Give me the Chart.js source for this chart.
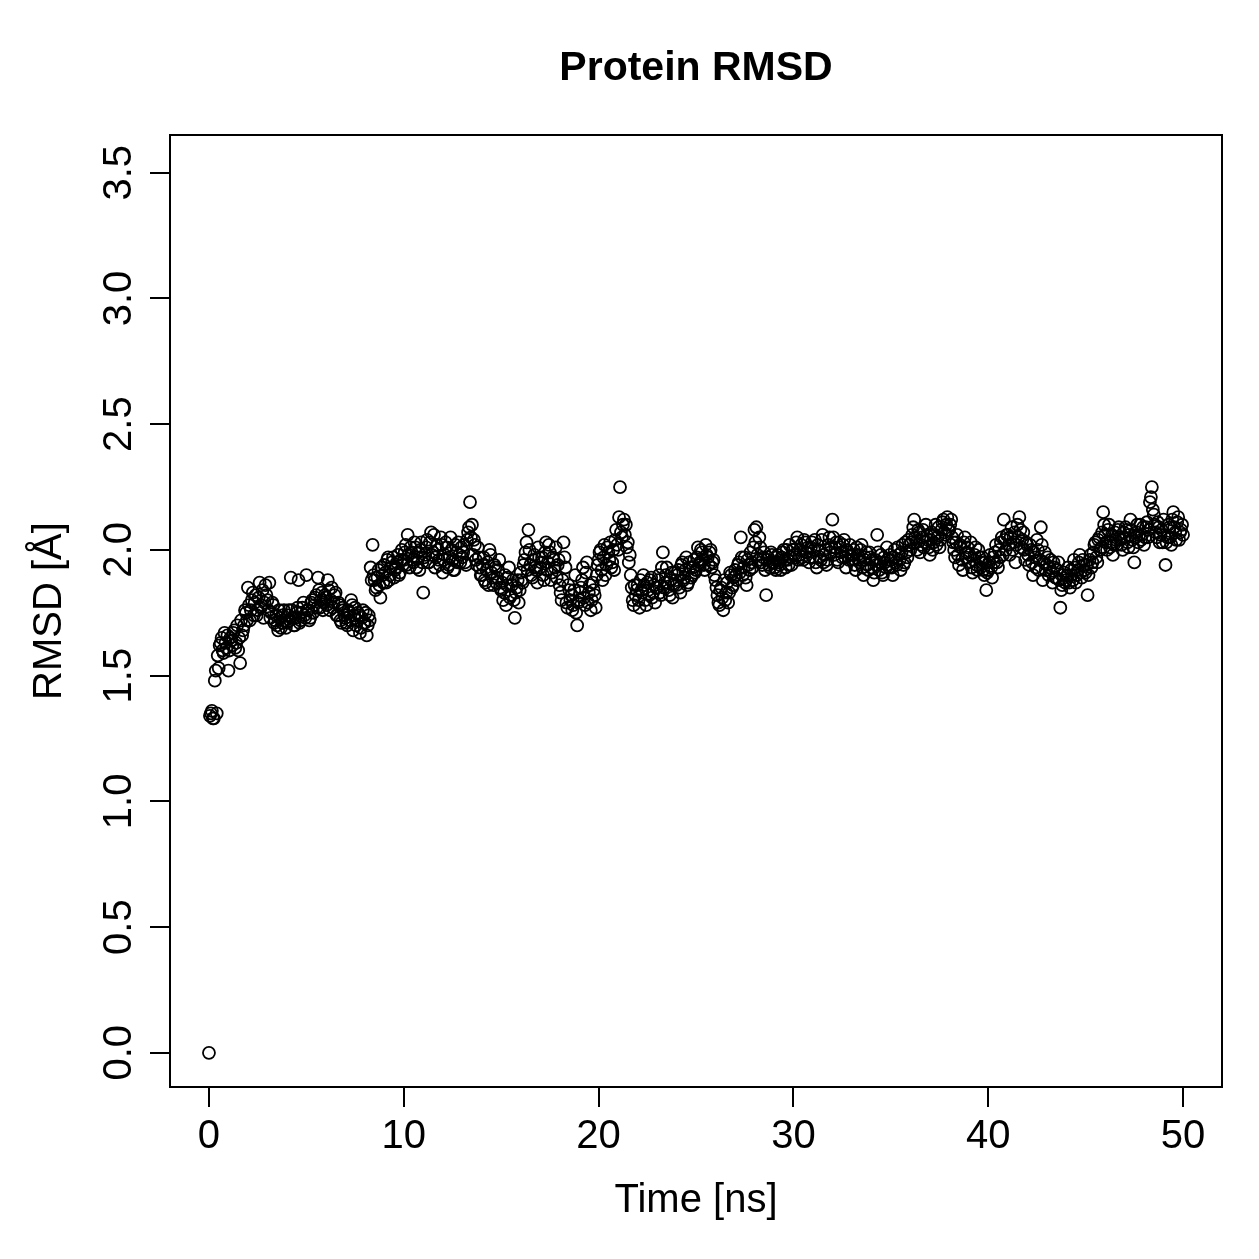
<!DOCTYPE html>
<html>
<head>
<meta charset="utf-8">
<title>Protein RMSD</title>
<script src="https://cdn.jsdelivr.net/npm/chart.js@4/dist/chart.umd.min.js"></script>
<style>
  html, body { margin: 0; padding: 0; background: #fff; }
  #wrap { width: 1259px; height: 1259px; position: relative; }
</style>
</head>
<body>
<div id="wrap"><canvas id="rmsdChart" width="1259" height="1259"></canvas></div>
<script>
// RMSD (Å), frames à 0.0, 0.1, 0.2 ... 50.0 ns (une ligne = 1 ns)
const rmsd = [
  0.00, 1.35, 1.33, 1.48, 1.35, 1.53, 1.63, 1.60, 1.67, 1.61,
  1.52, 1.65, 1.62, 1.68, 1.63, 1.60, 1.55, 1.66, 1.70, 1.75,
  1.85, 1.72, 1.80, 1.74, 1.82, 1.76, 1.87, 1.78, 1.73, 1.86,
  1.80, 1.87, 1.75, 1.78, 1.72, 1.70, 1.76, 1.69, 1.74, 1.72,
  1.71, 1.76, 1.89, 1.73, 1.70, 1.75, 1.88, 1.72, 1.77, 1.74,
  1.90, 1.76, 1.73, 1.80, 1.78, 1.82, 1.89, 1.77, 1.83, 1.79,
  1.81, 1.88, 1.76, 1.85, 1.79, 1.83, 1.74, 1.78, 1.71, 1.76,
  1.73, 1.70, 1.75, 1.80, 1.68, 1.77, 1.72, 1.74, 1.69, 1.76,
  1.71, 1.66, 1.74, 1.93, 2.02, 1.88, 1.85, 1.92, 1.81, 1.90,
  1.94, 1.87, 1.97, 1.90, 1.95, 1.89, 1.93, 1.98, 1.91, 2.00,
  1.96, 2.02, 2.06, 1.93, 1.99, 1.95, 2.01, 1.97, 1.92, 2.03,
  1.83, 1.98, 2.04, 1.95, 2.07, 1.99, 1.93, 2.02, 1.96, 2.05,
  1.91, 1.98, 2.01, 1.94, 2.05, 1.96, 1.92, 1.99, 2.03, 1.95,
  1.97, 2.02, 1.94, 2.07, 2.19, 2.10, 2.04, 1.96, 2.01, 1.93,
  1.90, 1.97, 1.87, 1.95, 2.00, 1.91, 1.86, 1.93, 1.89, 1.96,
  1.84, 1.80, 1.90, 1.86, 1.93, 1.82, 1.88, 1.73, 1.85, 1.79,
  1.91, 1.87, 1.96, 2.03, 2.08, 1.94, 1.89, 1.98, 1.92, 2.01,
  1.93, 1.97, 1.88, 2.03, 1.95, 1.99, 1.91, 1.96, 2.01, 1.94,
  1.86, 1.80, 2.03, 1.93, 1.77, 1.84, 1.82, 1.78, 1.90, 1.70,
  1.80, 1.85, 1.93, 1.78, 1.95, 1.83, 1.76, 1.87, 1.82, 1.90,
  1.96, 2.00, 1.88, 2.02, 1.94, 1.99, 2.03, 1.95, 1.92, 2.08,
  2.00, 2.25, 2.05, 2.12, 2.10, 2.03, 1.98, 1.85, 1.78, 1.82,
  1.86, 1.77, 1.84, 1.90, 1.80, 1.87, 1.82, 1.89, 1.83, 1.79,
  1.85, 1.90, 1.82, 1.99, 1.87, 1.93, 1.84, 1.88, 1.81, 1.91,
  1.86, 1.92, 1.83, 1.95, 1.89, 1.97, 1.87, 1.93, 1.90, 1.96,
  1.92, 2.01, 1.95, 1.99, 1.94, 2.02, 1.97, 1.99, 1.93, 1.96,
  1.88, 1.82, 1.78, 1.85, 1.76, 1.80, 1.87, 1.83, 1.90, 1.86,
  1.92, 1.88, 1.95, 2.05, 1.90, 1.97, 1.86, 1.94, 1.99, 1.93,
  2.08, 2.09, 1.96, 2.01, 1.94, 1.99, 1.82, 1.97, 1.93, 1.98,
  1.95, 1.92, 1.98, 1.94, 1.97, 2.00, 1.93, 1.96, 2.02, 1.94,
  2.00, 1.97, 2.05, 1.98, 2.02, 1.96, 2.03, 1.99, 1.95, 2.01,
  1.97, 2.04, 1.93, 2.00, 1.96, 2.06, 1.98, 1.94, 2.02, 1.99,
  2.12, 1.98, 2.03, 1.95, 2.01, 1.97, 2.04, 1.93, 1.99, 2.02,
  1.96, 2.00, 1.92, 1.98, 1.95, 2.02, 1.90, 1.97, 1.94, 1.99,
  1.93, 1.88, 1.96, 2.06, 1.92, 1.98, 1.90, 1.95, 2.01, 1.93,
  1.96, 1.90, 2.00, 1.94, 1.98, 1.92, 2.02, 1.95, 1.99, 2.04,
  2.00, 2.06, 2.12, 2.03, 2.08, 1.99, 2.05, 2.01, 2.10, 2.04,
  1.98, 2.07, 2.03, 2.10, 2.05, 2.01, 2.08, 2.12, 2.06, 2.13,
  2.08, 2.12, 2.03, 1.97, 2.06, 1.94, 2.01, 1.92, 2.05, 1.99,
  1.95, 2.03, 1.91, 1.98, 1.94, 2.00, 1.93, 1.97, 1.90, 1.84,
  1.92, 1.98, 1.89, 1.95, 2.02, 1.93, 1.97, 2.05, 2.12, 2.00,
  2.06, 1.98, 2.09, 2.03, 1.95, 2.10, 2.13, 2.01, 2.07, 1.96,
  2.02, 1.94, 2.00, 1.90, 1.97, 2.04, 1.92, 2.09, 1.88, 1.99,
  1.94, 1.90, 1.96, 1.87, 1.93, 1.89, 1.95, 1.77, 1.86, 1.91,
  1.88, 1.93, 1.85, 1.90, 1.96, 1.87, 1.92, 1.98, 1.89, 1.94,
  1.91, 1.82, 1.96, 1.93, 1.99, 2.03, 1.95, 2.05, 2.01, 2.15,
  2.06, 2.00, 2.10, 2.03, 1.98, 2.07, 2.02, 2.09, 2.04, 2.00,
  2.05, 2.08, 2.01, 2.12, 2.04, 1.95, 2.07, 2.03, 2.10, 2.06,
  2.02, 2.09, 2.05, 2.19, 2.25, 2.14, 2.07, 2.11, 2.03, 2.08,
  2.12, 1.94, 2.05, 2.09, 2.02, 2.15, 2.07, 2.11, 2.04, 2.08,
  2.06
];

// RMSD (Å) des frames intermédiaires, à 0.05, 0.15 ... 49.95 ns
const rmsdMid = [
  1.34, 1.36, 1.33, 1.52, 1.58, 1.62, 1.65, 1.59, 1.63, 1.66,
  1.60, 1.64, 1.67, 1.61, 1.70, 1.65, 1.72, 1.68, 1.76, 1.72,
  1.78, 1.76, 1.83, 1.79, 1.74, 1.81, 1.77, 1.84, 1.79, 1.82,
  1.76, 1.73, 1.79, 1.71, 1.74, 1.68, 1.73, 1.71, 1.76, 1.69,
  1.74, 1.72, 1.76, 1.70, 1.73, 1.77, 1.71, 1.75, 1.79, 1.73,
  1.76, 1.72, 1.79, 1.75, 1.81, 1.77, 1.84, 1.80, 1.76, 1.82,
  1.78, 1.84, 1.80, 1.77, 1.82, 1.74, 1.79, 1.72, 1.77, 1.74,
  1.71, 1.76, 1.72, 1.78, 1.74, 1.70, 1.75, 1.67, 1.73, 1.71,
  1.75, 1.70, 1.72, 1.88, 1.90, 1.84, 1.89, 1.86, 1.93, 1.87,
  1.91, 1.96, 1.88, 1.93, 1.97, 1.92, 1.95, 1.90, 1.96, 1.94,
  1.99, 1.94, 1.98, 2.01, 1.96, 2.03, 1.93, 1.99, 2.00, 1.95,
  1.97, 2.01, 1.95, 2.03, 1.98, 2.06, 1.97, 2.00, 1.94, 2.02,
  1.96, 2.03, 1.93, 1.97, 2.00, 1.92, 2.02, 1.95, 1.98, 2.01,
  1.99, 1.95, 2.04, 2.09, 2.05, 1.98, 2.02, 1.94, 1.97, 1.90,
  1.94, 1.88, 1.92, 1.86, 1.98, 1.89, 1.94, 1.87, 1.92, 1.85,
  1.87, 1.83, 1.78, 1.89, 1.81, 1.86, 1.80, 1.83, 1.88, 1.84,
  1.88, 1.94, 1.99, 1.92, 2.00, 1.90, 1.96, 1.93, 1.87, 1.97,
  1.95, 1.90, 1.99, 1.92, 2.02, 1.88, 1.97, 1.93, 1.89, 1.96,
  1.83, 1.88, 1.97, 1.79, 1.86, 1.80, 1.76, 1.84, 1.75, 1.79,
  1.83, 1.88, 1.81, 1.91, 1.79, 1.86, 1.80, 1.84, 1.77, 1.94,
  1.99, 1.92, 1.97, 1.90, 2.01, 1.96, 1.93, 2.00, 2.04, 2.02,
  2.13, 2.07, 2.10, 2.06, 2.01, 1.95, 1.90, 1.80, 1.86, 1.84,
  1.80, 1.88, 1.83, 1.86, 1.78, 1.84, 1.88, 1.81, 1.86, 1.85,
  1.88, 1.83, 1.93, 1.85, 1.90, 1.87, 1.82, 1.91, 1.86, 1.88,
  1.90, 1.85, 1.94, 1.88, 1.92, 1.86, 1.95, 1.89, 1.93, 1.91,
  1.97, 1.94, 2.00, 1.96, 1.92, 1.98, 1.94, 2.00, 1.95, 1.90,
  1.85, 1.79, 1.84, 1.81, 1.88, 1.83, 1.79, 1.91, 1.85, 1.89,
  1.90, 1.94, 1.91, 1.97, 1.93, 1.89, 1.96, 1.92, 1.95, 2.01,
  2.03, 1.98, 2.05, 1.95, 1.97, 1.92, 1.96, 1.94, 1.99, 1.95,
  1.93, 1.97, 1.95, 1.92, 1.99, 1.96, 2.00, 1.94, 1.97, 2.00,
  1.98, 2.03, 1.96, 2.00, 1.97, 2.04, 1.99, 2.01, 1.97, 2.03,
  2.00, 1.95, 2.02, 1.97, 2.04, 1.95, 2.00, 1.96, 2.05, 2.01,
  2.05, 2.01, 1.96, 2.03, 1.99, 2.02, 1.97, 2.00, 1.96, 1.98,
  1.98, 1.94, 2.01, 1.96, 2.00, 1.93, 1.96, 1.99, 1.92, 1.97,
  1.96, 1.91, 1.94, 1.99, 1.95, 1.91, 1.97, 1.93, 1.96, 1.98,
  1.93, 1.97, 1.95, 2.01, 1.96, 1.99, 1.94, 2.03, 1.97, 2.02,
  2.03, 2.09, 2.05, 2.00, 2.07, 2.02, 2.08, 2.03, 2.06, 2.01,
  2.04, 2.00, 2.06, 2.02, 2.09, 2.04, 2.11, 2.07, 2.10, 2.08,
  2.10, 2.05, 2.00, 2.03, 1.98, 2.02, 1.96, 2.03, 1.97, 2.01,
  1.98, 1.93, 1.96, 2.01, 1.92, 1.97, 1.95, 1.92, 1.95, 1.91,
  1.95, 1.93, 1.97, 1.99, 1.95, 2.00, 2.03, 1.98, 2.04, 2.06,
  2.02, 2.05, 2.00, 2.07, 2.02, 2.05, 2.08, 2.04, 2.00, 2.03,
  1.98, 2.02, 1.95, 1.99, 1.93, 2.00, 1.96, 2.02, 1.95, 1.92,
  1.97, 1.93, 1.91, 1.95, 1.89, 1.92, 1.88, 1.84, 1.90, 1.87,
  1.90, 1.87, 1.92, 1.88, 1.93, 1.90, 1.95, 1.91, 1.96, 1.92,
  1.94, 1.90, 1.98, 1.95, 2.02, 1.97, 2.04, 2.00, 2.07, 2.10,
  2.03, 2.08, 2.01, 2.06, 2.02, 2.04, 2.08, 2.05, 2.02, 2.07,
  2.09, 2.03, 2.06, 2.08, 2.01, 2.05, 2.10, 2.06, 2.04, 2.09,
  2.05, 2.11, 2.08, 2.21, 2.16, 2.10, 2.05, 2.09, 2.06, 2.03,
  2.06, 2.03, 2.10, 2.05, 2.12, 2.09, 2.04, 2.13, 2.07, 2.10
];

// Temps (ns) de chaque frame
const timeNs = rmsd.map((v, i) => i / 10);
const timeMid = rmsdMid.map((v, i) => i / 10 + 0.05);

const xTicks = [0, 10, 20, 30, 40, 50];
const yTicks = [0.0, 0.5, 1.0, 1.5, 2.0, 2.5, 3.0, 3.5];

const titleText = 'Protein RMSD';
const xLabel = 'Time [ns]';
const yLabel = 'RMSD [Å]';

const FONT = '"Liberation Sans", Arial, Helvetica, sans-serif';

// Cadre, graduations et textes façon R (base graphics)
const rStylePlugin = {
    id: 'rStyle',
    afterDraw(chart) {
        const ctx = chart.ctx;
        const area = chart.chartArea;
        const xs = chart.scales.x;
        const ys = chart.scales.y;
        const tick = 20;

        ctx.save();
        ctx.strokeStyle = '#000';
        ctx.fillStyle = '#000';
        ctx.lineWidth = 2;

        // boîte
        ctx.strokeRect(area.left, area.top, area.right - area.left, area.bottom - area.top);

        // axe x
        ctx.beginPath();
        xTicks.forEach(t => {
            const px = Math.round(xs.getPixelForValue(t));
            ctx.moveTo(px, area.bottom);
            ctx.lineTo(px, area.bottom + tick);
        });
        ctx.stroke();
        ctx.font = '40px ' + FONT;
        ctx.textAlign = 'center';
        ctx.textBaseline = 'middle';
        xTicks.forEach(t => {
            ctx.fillText(String(t), xs.getPixelForValue(t), area.bottom + 50);
        });

        // axe y
        ctx.beginPath();
        yTicks.forEach(t => {
            const py = Math.round(ys.getPixelForValue(t));
            ctx.moveTo(area.left, py);
            ctx.lineTo(area.left - tick, py);
        });
        ctx.stroke();
        yTicks.forEach(t => {
            ctx.save();
            ctx.translate(area.left - 50, ys.getPixelForValue(t));
            ctx.rotate(-Math.PI / 2);
            ctx.fillText(t.toFixed(1), 0, 0);
            ctx.restore();
        });

        // titres des axes
        ctx.fillText(xLabel, (area.left + area.right) / 2, 1201);
        ctx.save();
        ctx.translate(50, (area.top + area.bottom) / 2);
        ctx.rotate(-Math.PI / 2);
        ctx.fillText(yLabel, 0, 0);
        ctx.restore();

        // titre principal
        ctx.font = 'bold 41px ' + FONT;
        ctx.fillText(titleText, (area.left + area.right) / 2, 69);
        ctx.restore();
    }
};

const pointStyle = {
    pointStyle: 'circle',
    pointRadius: 6,
    pointBorderWidth: 1.8,
    borderColor: '#000',
    backgroundColor: 'rgba(0,0,0,0)'
};

const ctx = document.getElementById('rmsdChart').getContext('2d');
const rmsdChart = new Chart(ctx, {
    type: 'scatter',
    data: {
        datasets: [
            Object.assign({
                label: 'RMSD',
                data: timeNs.map((t, i) => ({ x: t, y: rmsd[i] }))
            }, pointStyle),
            Object.assign({
                label: 'RMSD (frames intermédiaires)',
                data: timeMid.map((t, i) => ({ x: t, y: rmsdMid[i] }))
            }, pointStyle)
        ]
    },
    options: {
        responsive: false,
        animation: false,
        layout: { padding: { left: 170, top: 135, right: 37, bottom: 172 } },
        plugins: {
            legend: { display: false },
            tooltip: { enabled: false },
            title: { display: false }
        },
        scales: {
            x: { type: 'linear', display: false, min: -2, max: 52 },
            y: { type: 'linear', display: false, min: -0.136, max: 3.65 }
        }
    },
    plugins: [rStylePlugin]
});
</script>
</body>
</html>
